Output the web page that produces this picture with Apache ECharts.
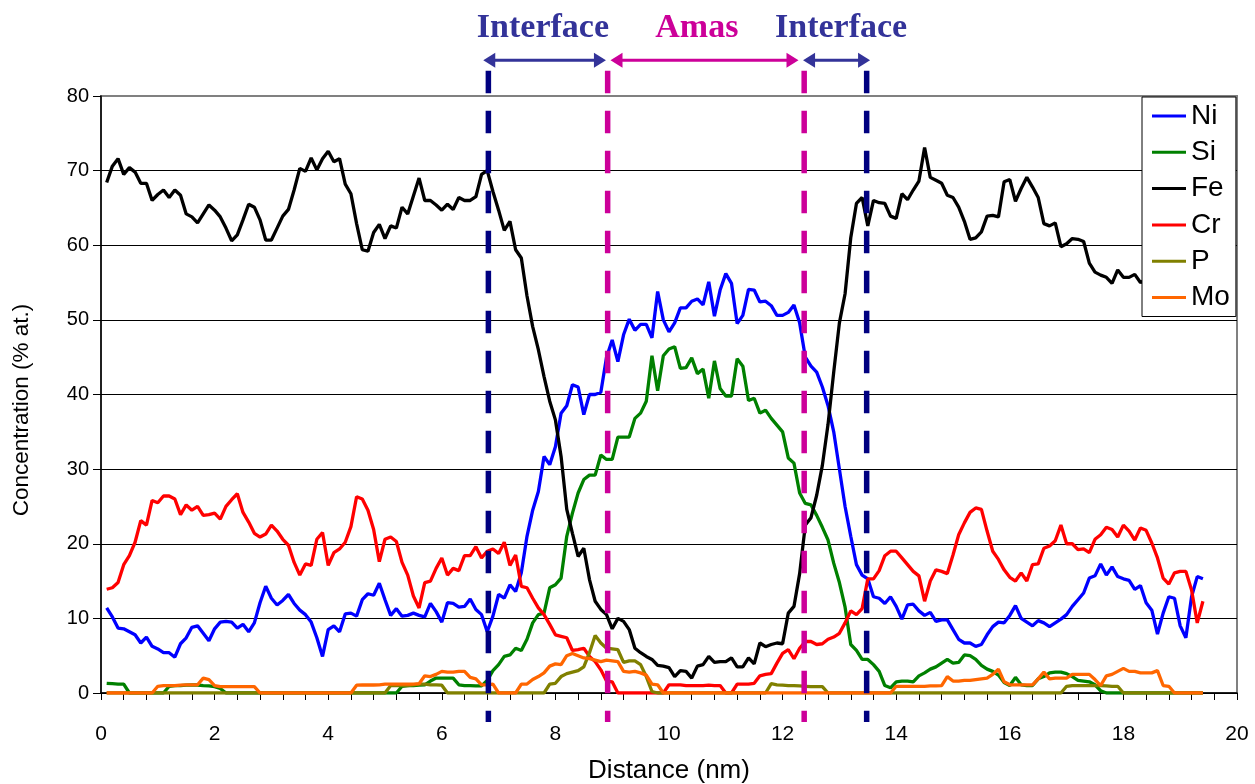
<!DOCTYPE html>
<html>
<head>
<meta charset="utf-8">
<title>Concentration profile</title>
<script src="https://cdn.jsdelivr.net/npm/echarts@6/dist/echarts.min.js"></script>
<style>
  html, body { margin: 0; padding: 0; background: #ffffff; }
  #chart { width: 1255px; height: 784px; }
</style>
</head>
<body>
<div id="chart"></div>
<script>
// Element names, in legend order
const elements = ['Ni', 'Si', 'Fe', 'Cr', 'P', 'Mo'];

// Concentrations (% at.), one value every 0.1 nm from 0.1 to 19.4 nm (10 values per row = 1 nm)
const ni = [
  11.4, 10.2, 8.7, 8.6, 8.2, 7.8, 6.7, 7.5, 6.25, 5.9,
  5.4, 5.4, 4.8, 6.6, 7.4, 8.8, 9.0, 8.0, 7.0, 8.6,
  9.5, 9.6, 9.5, 8.7, 9.2, 8.2, 9.4, 12.1, 14.3, 12.7,
  11.8, 12.4, 13.2, 12.0, 11.1, 10.5, 9.5, 7.4, 4.9, 8.5,
  9.0, 8.2, 10.6, 10.7, 10.3, 12.5, 13.3, 13.1, 14.7, 12.5,
  10.4, 11.3, 10.3, 10.4, 10.7, 10.4, 10.2, 12.0, 10.9, 9.5,
  12.1, 12.0, 11.5, 11.6, 12.6, 11.2, 10.5, 8.2, 10.3, 13.2,
  12.7, 14.5, 13.6, 16.1, 21.0, 24.5, 27.0, 31.7, 30.6, 33.0,
  37.5, 38.5, 41.3, 41.0, 37.3, 40.0, 40.0, 40.3, 45.0, 47.3,
  44.4, 48.0, 50.1, 48.6, 49.4, 49.4, 47.6, 53.8, 50.0, 48.4,
  49.6, 51.6, 51.6, 52.5, 52.8, 52.0, 55.1, 50.5, 54.0, 56.2,
  54.9, 49.5, 50.6, 54.1, 54.0, 52.4, 52.5, 51.9, 50.6, 50.6,
  51.0, 52.0, 49.6, 45.0, 43.8, 43.0, 41.0, 38.5, 35.0, 30.0,
  25.0, 21.0, 17.2, 15.8, 15.3, 12.9, 12.7, 12.0, 12.9, 11.6,
  9.9, 11.8, 11.9, 11.0, 10.4, 10.8, 9.6, 9.8, 9.8, 8.5,
  7.2, 6.7, 6.7, 6.25, 6.5, 7.8, 8.9, 9.5, 9.4, 10.4,
  11.7, 10.0, 9.5, 9.0, 9.7, 9.4, 8.9, 9.4, 9.9, 10.5,
  11.6, 12.5, 13.4, 15.4, 15.7, 17.3, 15.8, 16.9, 15.6, 15.3,
  15.1, 13.9, 14.4, 12.1, 11.1, 7.9, 10.7, 12.9, 12.7, 9.0,
  7.4, 12.9, 15.6, 15.3
];

const si = [
  1.3, 1.25, 1.2, 1.2, 0, 0, 0, 0, 0, 0,
  0, 0.9, 1.0, 1.0, 1.05, 1.07, 1.07, 1.0, 0.95, 0.85,
  0.6, 0, 0, 0, 0, 0, 0, 0, 0, 0,
  0, 0, 0, 0, 0, 0, 0, 0, 0, 0,
  0, 0, 0, 0, 0, 0, 0, 0, 0, 0,
  0, 0, 0.9, 1.0, 1.0, 1.05, 1.1, 1.6, 2.0, 2.0,
  2.0, 2.0, 1.1, 1.0, 1.0, 0.95, 0.95, 1.7, 3.0, 3.8,
  4.9, 5.1, 6.0, 5.7, 7.2, 9.4, 10.5, 10.7, 14.1, 14.5,
  15.4, 21.0, 24.1, 26.8, 28.6, 29.2, 29.2, 31.9, 31.3, 31.3,
  34.3, 34.3, 34.3, 36.8, 37.5, 39.1, 45.2, 40.5, 45.2, 46.1,
  46.4, 43.5, 43.6, 44.9, 42.8, 43.4, 39.5, 44.5, 40.8, 39.8,
  39.8, 44.8, 43.8, 39.2, 39.5, 37.5, 37.9, 36.8, 35.9, 35.0,
  31.5, 30.8, 26.8, 25.4, 25.2, 23.8, 22.2, 20.5, 17.4, 14.8,
  11.5, 6.5, 5.7, 4.5, 4.5, 3.8, 2.9, 1.0, 0.7, 1.5,
  1.6, 1.6, 1.5, 2.3, 2.7, 3.2, 3.5, 4.0, 4.5, 4.0,
  4.1, 5.1, 5.0, 4.5, 3.7, 3.2, 2.9, 2.4, 1.4, 1.0,
  2.1, 1.1, 1.0, 1.0, 1.9, 2.2, 2.7, 2.8, 2.8, 2.6,
  2.2, 1.7, 1.6, 1.5, 1.1, 0.3, 0, 0, 0, 0,
  0, 0, 0, 0, 0, 0, 0, 0, 0, 0,
  0, 0, 0, 0
];

const fe = [
  68.4, 70.6, 71.6, 69.5, 70.4, 69.8, 68.3, 68.3, 66.0, 66.8,
  67.4, 66.4, 67.4, 66.7, 64.2, 63.8, 63.0, 64.2, 65.4, 64.7,
  63.8, 62.3, 60.6, 61.4, 63.4, 65.5, 65.1, 63.4, 60.7, 60.7,
  62.3, 63.9, 64.8, 67.4, 70.3, 69.9, 71.7, 70.1, 71.6, 72.6,
  71.2, 71.6, 68.2, 66.9, 62.9, 59.4, 59.2, 61.7, 62.8, 60.9,
  62.6, 62.3, 65.1, 64.2, 66.6, 69.0, 66.0, 66.0, 65.4, 64.7,
  65.5, 64.8, 66.4, 66.0, 66.0, 66.5, 69.5, 70.0, 67.2, 64.7,
  62.0, 63.2, 59.4, 58.3, 53.2, 49.1, 46.0, 42.4, 39.1, 36.6,
  31.7, 24.6, 21.4, 18.3, 19.4, 15.2, 12.3, 11.2, 10.5, 8.6,
  10.0, 9.6, 8.5, 6.0, 5.4, 4.9, 4.5, 3.7, 3.6, 3.4,
  2.2, 3.0, 2.9, 2.0, 3.6, 3.8, 4.9, 4.1, 4.2, 4.2,
  4.7, 3.5, 3.5, 4.7, 3.9, 6.7, 6.2, 6.5, 6.7, 6.6,
  10.7, 11.6, 16.0, 22.5, 23.5, 26.5, 30.5, 36.0, 43.0, 49.6,
  53.5, 61.0, 65.6, 66.4, 62.6, 66.0, 65.7, 65.6, 63.9, 63.6,
  66.9, 66.1, 67.4, 68.6, 73.1, 69.1, 68.7, 68.3, 66.7, 66.4,
  65.1, 63.2, 60.8, 61.0, 61.8, 63.9, 64.0, 63.8, 68.5, 68.8,
  65.9, 67.6, 69.1, 67.8, 66.4, 62.9, 62.6, 63.0, 59.8, 60.2,
  60.9, 60.8, 60.5, 57.6, 56.4, 56.0, 55.7, 54.9, 56.7, 55.7,
  55.7, 56.1, 55.0, 55.4, 54.8, 55.2, 54.3, 54.0, 54.6, 53.8,
  53.5, 54.0, 53.2, 53.0
];

const cr = [
  13.9, 14.1, 14.8, 17.2, 18.4, 20.2, 23.1, 22.5, 25.8, 25.5,
  26.4, 26.4, 26.0, 23.9, 25.2, 24.5, 25.0, 23.8, 23.9, 24.1,
  23.3, 25.0, 25.9, 26.7, 24.2, 22.9, 21.4, 20.9, 21.3, 22.5,
  21.7, 20.6, 19.8, 17.5, 15.8, 17.3, 17.1, 20.6, 21.5, 17.1,
  18.8, 19.3, 20.2, 22.3, 26.3, 26.0, 24.5, 21.9, 17.6, 20.6,
  20.9, 20.3, 17.5, 15.8, 13.0, 11.4, 14.8, 15.0, 16.7, 18.1,
  15.8, 16.7, 16.4, 18.4, 18.4, 19.6, 18.1, 19.0, 19.3, 18.7,
  20.2, 17.1, 18.5, 14.3, 14.1, 12.7, 11.4, 10.5, 9.2, 7.8,
  7.6, 7.4, 5.7, 5.8, 6.0, 4.9, 4.2, 3.1, 1.6, 1.5,
  0, 0, 0, 0, 0, 0, 0, 0, 0, 1.1,
  1.1, 1.1, 1.0, 1.0, 1.0, 1.0, 1.05, 1.0, 1.0, 0,
  0, 1.2, 1.2, 1.2, 1.3, 2.3, 2.5, 2.6, 4.0, 5.3,
  5.8, 4.6, 6.0, 6.9, 6.9, 6.5, 6.6, 7.2, 7.5, 8.0,
  9.4, 11.0, 10.5, 11.3, 15.3, 15.3, 16.4, 18.4, 19.0, 19.0,
  18.1, 17.2, 16.3, 15.7, 12.3, 15.0, 16.5, 16.3, 16.0, 18.5,
  21.2, 22.8, 24.2, 24.8, 24.6, 21.7, 19.0, 17.9, 16.5, 15.5,
  15.0, 16.1, 15.0, 17.2, 17.3, 19.4, 19.7, 20.4, 22.5, 20.0,
  20.0, 19.2, 19.3, 18.8, 20.6, 21.2, 22.2, 21.9, 20.9, 22.5,
  21.7, 20.5, 22.1, 21.8, 20.1, 18.1, 15.4, 14.6, 16.1, 16.3,
  16.3, 13.8, 9.4, 12.3
];

const p = [
  0, 0, 0, 0, 0, 0, 0, 0, 0, 0,
  0, 0, 0, 0, 0, 0, 0, 0, 0, 0,
  0, 0, 0, 0, 0, 0, 0, 0, 0, 0,
  0, 0, 0, 0, 0, 0, 0, 0, 0, 0,
  0, 0, 0, 0, 0, 0, 0, 0, 0, 0,
  1.0, 1.0, 1.0, 1.0, 1.1, 1.2, 1.2, 1.1, 1.1, 1.05,
  0, 0, 0, 0, 0, 0, 0, 0, 0, 0,
  0, 0, 0, 0, 0, 0, 0, 0, 1.2, 1.3,
  2.2, 2.6, 2.8, 3.0, 3.5, 5.4, 7.7, 6.7, 6.0, 5.9,
  5.8, 4.1, 4.3, 4.3, 3.8, 2.2, 0.2, 0, 0, 0,
  0, 0, 0, 0, 0, 0, 0, 0, 0, 0,
  0, 0, 0, 0, 0, 0, 0, 1.25, 1.1, 1.05,
  1.0, 1.0, 0.95, 0.9, 0.85, 0.85, 0.85, 0, 0, 0,
  0, 0, 0, 0, 0, 0, 0, 0, 0, 0,
  0, 0, 0, 0, 0, 0, 0, 0, 0, 0,
  0, 0, 0, 0, 0, 0, 0, 0, 0, 0,
  0, 0, 0, 0, 0, 0, 0, 0, 0, 0.9,
  1.0, 1.0, 1.0, 1.0, 1.0, 1.0, 0.95, 0.9, 0.9, 0,
  0, 0, 0, 0, 0, 0, 0, 0, 0, 0,
  0, 0, 0, 0
];

const mo = [
  0, 0, 0, 0, 0, 0, 0, 0, 0, 0.9,
  1.0, 1.0, 1.0, 1.05, 1.1, 1.1, 1.1, 2.0, 1.8, 1.0,
  0.85, 0.85, 0.85, 0.85, 0.85, 0.85, 0.85, 0, 0, 0,
  0, 0, 0, 0, 0, 0, 0, 0, 0, 0,
  0, 0, 0, 0, 1.05, 1.07, 1.07, 1.07, 1.1, 1.2,
  1.2, 1.2, 1.2, 1.2, 1.2, 1.25, 2.3, 2.2, 2.5, 2.9,
  2.8, 2.8, 2.9, 2.9, 2.1, 1.9, 1.1, 1.1, 1.2, 0,
  0, 0, 0, 1.2, 1.2, 1.8, 2.2, 2.7, 3.6, 3.9,
  3.8, 5.0, 5.3, 5.0, 4.7, 4.6, 4.4, 4.2, 4.4, 4.3,
  4.2, 2.9, 2.8, 2.9, 2.7, 2.4, 1.2, 1.1, 0, 0,
  0, 0, 0, 0, 0, 0, 0, 0, 0, 0,
  0, 0, 0, 0, 0, 0, 0, 0, 0, 0,
  0, 0, 0, 0, 0, 0, 0, 0, 0, 0,
  0, 0, 0, 0, 0, 0, 0, 0, 0, 0.9,
  0.9, 0.9, 0.9, 0.9, 0.9, 0.95, 0.95, 1.0, 2.2, 1.6,
  1.6, 1.7, 1.7, 1.8, 1.9, 2.0, 2.5, 3.2, 1.5, 1.1,
  1.1, 1.1, 1.1, 1.1, 1.9, 2.8, 1.9, 2.0, 2.0, 2.0,
  2.5, 2.5, 2.5, 2.5, 1.8, 1.0, 2.3, 2.5, 2.9, 3.3,
  2.9, 2.9, 2.7, 2.7, 2.7, 3.0, 1.0, 0.9, 0, 0,
  0, 0, 0, 0
];

// Sampling positions along the profile (nm): 0.1, 0.2, ... 19.4
const distance = ni.map((_, i) => (i + 1) / 10);

// Zone boundaries (nm) and the zones between them
const zoneBounds = [6.82, 8.92, 12.38, 13.48];
const zoneNames = ['Interface', 'Amas', 'Interface'];
const zoneArrows = [[6.73, 8.89], [8.97, 12.28], [12.36, 13.54]];
const zoneLabelAt = [7.78, 10.49, 13.03];

// Axis ticks
const xTicks = { min: 0, max: 20, step: 2 };
const yTicks = { min: 0, max: 80, step: 10 };

// ---- styling ----
const seriesColors = ['#0000ff', '#008000', '#000000', '#ff0000', '#808000', '#ff6600'];
const navy = '#000080';
const indigo = '#333399';
const magenta = '#cc0099';
const boundColors = [navy, magenta, magenta, navy];
const zoneColors = [indigo, magenta, indigo];
const sans = 'Arial, "Liberation Sans", sans-serif';
const serif = '"Times New Roman", "Liberation Serif", serif';
// vertical extent of the boundary markers and level of the zone arrows/labels (in % at.)
const boundTop = 83.4, boundBottom = -3.9, arrowLevel = 84.8, zoneLabelLevel = 89.1;
// gridlines black, the top one (frame edge) grey
const gridLineColors = ['#000', '#000', '#000', '#000', '#000', '#000', '#000', '#000', '#808080'];

const columns = [ni, si, fe, cr, p, mo];

const lineSeries = elements.map((name, k) => ({
  name,
  type: 'line',
  data: distance.map((d, i) => [d, columns[k][i]]),
  showSymbol: false,
  symbol: 'none',
  lineStyle: { color: seriesColors[k], width: 3.3 },
  itemStyle: { color: seriesColors[k] },
  animation: false,
  z: 2 + k * 0.01
}));

const boundSeries = {
  type: 'custom',
  name: 'bounds',
  clip: false,
  silent: true,
  z: 10,
  animation: false,
  data: zoneBounds.map((x, i) => [x, i]),
  renderItem(params, api) {
    const x = api.value(0);
    const i = api.value(1);
    const a = api.coord([x, boundTop]);
    const b = api.coord([x, boundBottom]);
    return {
      type: 'line',
      shape: { x1: a[0], y1: a[1], x2: b[0], y2: b[1] },
      style: { stroke: boundColors[i], lineWidth: 5.5, lineDash: [22.7, 17.3] }
    };
  }
};

const zoneSeries = {
  type: 'custom',
  name: 'zones',
  clip: false,
  silent: true,
  z: 11,
  animation: false,
  data: zoneNames.map((n, i) => [zoneArrows[i][0], zoneArrows[i][1], zoneLabelAt[i], i]),
  renderItem(params, api) {
    const i = api.value(3);
    const color = zoneColors[i];
    const a = api.coord([api.value(0), arrowLevel]);
    const b = api.coord([api.value(1), arrowLevel]);
    const t = api.coord([api.value(2), zoneLabelLevel]);
    const head = 12, half = 7.5;
    return {
      type: 'group',
      children: [
        { type: 'line', shape: { x1: a[0] + head - 2, y1: a[1], x2: b[0] - head + 2, y2: b[1] },
          style: { stroke: color, lineWidth: 3 } },
        { type: 'polygon', shape: { points: [[a[0], a[1]], [a[0] + head, a[1] - half], [a[0] + head, a[1] + half]] },
          style: { fill: color } },
        { type: 'polygon', shape: { points: [[b[0], b[1]], [b[0] - head, b[1] - half], [b[0] - head, b[1] + half]] },
          style: { fill: color } },
        { type: 'text', x: t[0], y: t[1],
          style: { text: zoneNames[i], fill: color, font: 'bold 34px ' + serif,
                   textAlign: 'center', textVerticalAlign: 'middle', align: 'center', verticalAlign: 'middle' } }
      ]
    };
  }
};

const chart = echarts.init(document.getElementById('chart'), null, { renderer: 'canvas' });

chart.setOption({
  backgroundColor: '#ffffff',
  animation: false,
  textStyle: { fontFamily: sans, color: '#000' },
  grid: {
    left: 101, top: 96, width: 1136, height: 597,
    outerBoundsMode: 'none',
    containLabel: false,
    show: true, borderColor: '#808080', borderWidth: 2, backgroundColor: 'transparent'
  },
  xAxis: {
    type: 'value',
    min: xTicks.min, max: xTicks.max, interval: xTicks.step,
    name: 'Distance (nm)',
    nameLocation: 'middle',
    nameGap: 65,
    nameTextStyle: { fontSize: 26, color: '#000', fontFamily: sans },
    axisLine: { show: true, onZero: false, lineStyle: { color: '#000', width: 1.5 } },
    axisTick: { show: true, length: 7, lineStyle: { color: '#000', width: 1 } },
    minorTick: { show: true, splitNumber: 5, length: 7, lineStyle: { color: '#000', width: 1 } },
    splitLine: { show: false },
    axisLabel: { margin: 31, fontSize: 21, color: '#000', fontFamily: sans }
  },
  yAxis: {
    type: 'value',
    min: yTicks.min, max: yTicks.max, interval: yTicks.step,
    axisLine: { show: true, lineStyle: { color: '#000', width: 1.5 } },
    axisTick: { show: true, length: 8, lineStyle: { color: '#000', width: 1 } },
    splitLine: { show: true, lineStyle: { color: gridLineColors, width: 1 } },
    axisLabel: { margin: 12, fontSize: 20, color: '#000', fontFamily: sans }
  },
  legend: {
    data: elements,
    orient: 'vertical',
    left: 1142, top: 97,
    padding: [5, 6, 5, 10],
    itemGap: 8.3,
    itemWidth: 34, itemHeight: 3,
    icon: 'rect',
    backgroundColor: '#ffffff',
    borderColor: '#000000', borderWidth: 1, borderRadius: 0,
    textStyle: { fontSize: 28, lineHeight: 28, color: '#000', fontFamily: sans },
    z: 20
  },
  graphic: [{
    type: 'text',
    x: 22, y: 410,
    rotation: Math.PI / 2,
    style: { text: 'Concentration (% at.)', font: '22.5px ' + sans, fill: '#000',
             textAlign: 'center', textVerticalAlign: 'middle', align: 'center', verticalAlign: 'middle' }
  }],
  series: [...lineSeries, boundSeries, zoneSeries]
});
</script>
</body>
</html>
